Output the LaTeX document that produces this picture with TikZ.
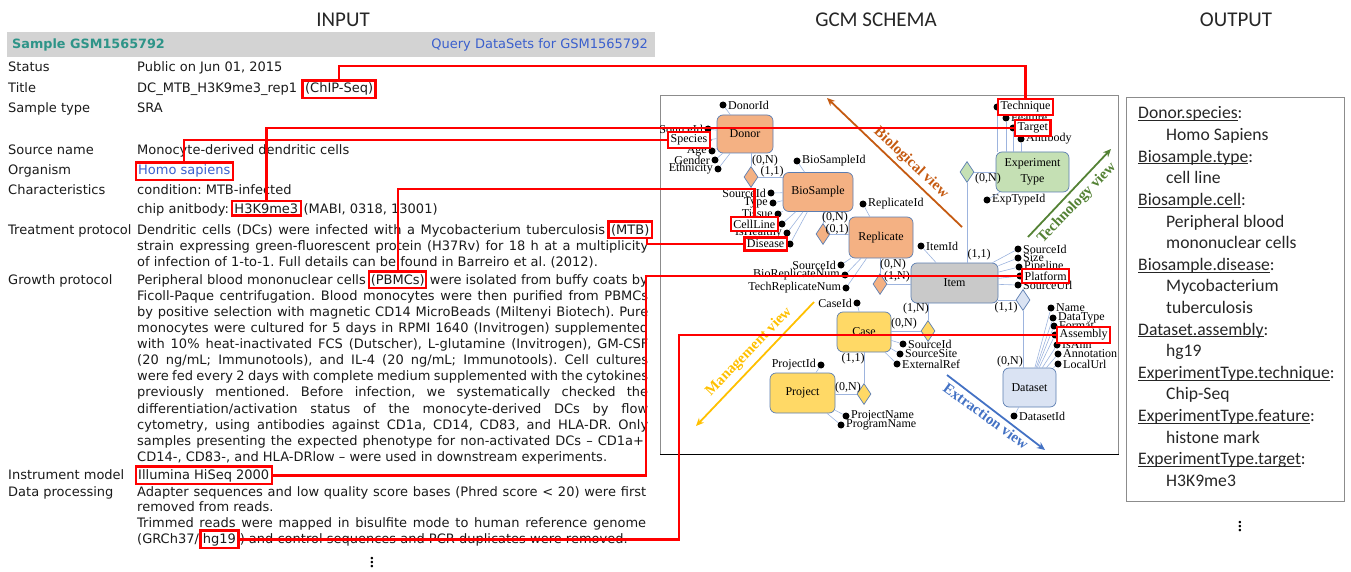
\documentclass[tikz,border=0pt]{standalone}
\usepackage{fontspec}
\setmainfont{Liberation Serif}
\newfontfamily\geoFont{DejaVu Sans}
\newfontfamily\calFont{Carlito}
\usetikzlibrary{positioning,shapes.geometric,arrows.meta}
\definecolor{hlRed}{HTML}{FF0000}
\definecolor{inkBlack}{HTML}{1A1A1A}
\definecolor{inkGray}{HTML}{262626}
\definecolor{barGray}{HTML}{D3D3D3}
\definecolor{gsmTeal}{HTML}{2E9488}
\definecolor{linkBlue}{HTML}{3A5FCD}
\definecolor{frameGray}{HTML}{8C8C8C}
\definecolor{entEdge}{HTML}{5B7DB1}
\definecolor{erLine}{HTML}{9DB4DE}
\definecolor{bioFill}{HTML}{F4B183}
\definecolor{itemFill}{HTML}{C9C9C9}
\definecolor{techFill}{HTML}{C5E0B4}
\definecolor{mgmtFill}{HTML}{FFD966}
\definecolor{extrFill}{HTML}{DAE3F3}
\definecolor{bioOrange}{HTML}{C55A11}
\definecolor{techGreen}{HTML}{548235}
\definecolor{mgmtGold}{HTML}{FFC000}
\definecolor{extrBlue}{HTML}{4472C4}
\newcommand{\keyLine}[1]{\sbox0{#1}\rlap{\rule[-2pt]{\wd0}{0.7pt}}\usebox0}
\frenchspacing
\tikzset{
  inp/.style={font=\geoFont\fontsize{13}{16}\selectfont, anchor=base west, inner sep=0pt, text=inkBlack},
  hlin/.style={draw=hlRed, line width=2.4pt, inner sep=2.5pt},
  alab/.style={font=\fontsize{12}{14}\selectfont, inner sep=0.5pt},
  hlsch/.style={alab, draw=hlRed, fill=white, line width=2.4pt, inner sep=2.5pt},
  ent/.style={draw=entEdge, line width=0.7pt, rounded corners=6pt, font=\fontsize{12}{16}\selectfont, align=center, inner sep=0pt},
  rel/.style={diamond, draw=entEdge, line width=0.7pt, inner sep=0pt, minimum width=14pt, minimum height=21pt},
  attr/.style={circle, fill=black, inner sep=0pt, minimum size=7pt},
  card/.style={font=\fontsize{12}{14}\selectfont, inner sep=0pt},
  er/.style={draw=erLine, line width=0.6pt},
  viewarr/.style={line width=1.8pt, -{Stealth[length=8pt,width=7pt]}},
  viewlab/.style={font=\bfseries\fontsize{15}{18}\selectfont, inner sep=0pt},
  redline/.style={draw=hlRed, line width=2.4pt},
  colhead/.style={font=\calFont\fontsize{21}{24}\selectfont, text=inkGray},
  outline/.style={font=\calFont\fontsize{17.6}{20}\selectfont, anchor=base west, inner sep=0pt, text=inkGray},
  moredots/.style={font=\fontsize{21}{24}\selectfont, inner sep=0pt}
}
\begin{document}
\begin{tikzpicture}[x=1pt,y=-1pt]
\useasboundingbox (0,0) rectangle (1351,572);

% column headings
\node[colhead] (tIn) at (343,20) {INPUT};
\node[colhead] (tSchema) at (876,20) {GCM SCHEMA};
\node[colhead] (tOut) at (1236,20) {OUTPUT};

% ---- input record
\node[fill=barGray, minimum width=648pt, minimum height=25pt, anchor=north west, inner sep=0pt] (bar) at (7,32) {};
\node[inp, font=\geoFont\bfseries\fontsize{12.8}{16}\selectfont, text=gsmTeal] (gsm) at (12,49) {Sample GSM1565792};
\node[inp, anchor=base east, text=linkBlue] (query) at (648,49) {Query DataSets for GSM1565792};

\node[inp] (lStatus) at (8,72) {Status};
\node[inp] (lTitle) at (8,93) {Title};
\node[inp] (lType) at (8,113) {Sample type};
\node[inp] (lSource) at (8,155) {Source name};
\node[inp] (lOrg) at (8,175) {Organism};
\node[inp] (lChar) at (8,195) {Characteristics};
\node[inp] (lTreat) at (8,234) {Treatment protocol};
\node[inp] (lGrowth) at (8,284) {Growth protocol};
\node[inp] (lInstr) at (8,479) {Instrument model};
\node[inp] (lProc) at (8,496) {Data processing};

\node[inp] (vStatus) at (137,72) {Public on Jun 01, 2015};
\node[inp] (vTitle) at (137,93) {DC\_MTB\_H3K9me3\_rep1};
\node[inp, hlin, base right=4pt of vTitle] (chip) {(ChIP-Seq)};
\node[inp] (vType) at (137,113) {SRA};
\node[inp] (vSource) at (137,155) {Monocyte-derived dendritic cells};
\node[inp, hlin, text=linkBlue] (homo) at (134.5,175) {Homo sapiens};
\node[inp] (vCond) at (137,195) {condition: MTB-infected};
\node[inp] (vChip) at (137,213) {chip anitbody:};
\node[inp, hlin, base right=1.5pt of vChip] (h3k) {H3K9me3};
\node[inp, base right=1.5pt of h3k] (vMabi) {(MABI, 0318, 13001)};
\node[inp] (vTreat1) at (137,234) {\makebox[468pt][s]{Dendritic cells (DCs) were infected with a Mycobacterium tuberculosis}};
\node[inp, hlin, base right=2pt of vTreat1] (mtb) {(MTB)};
\node[inp] (vTreat2) at (137,250) {\makebox[511pt][s]{strain expressing green-fluorescent protein (H37Rv) for 18 h at a multiplicity}};
\node[inp] (vTreat3) at (137,266) {of infection of 1-to-1. Full details can be found in Barreiro et al. (2012).};

\node[inp] (vGrow) at (137,284) {Peripheral blood mononuclear cells};
\node[inp, hlin, inner xsep=1.5pt, base right=2pt of vGrow] (pbmc) {(PBMCs)};
\node[inp, anchor=base east] (vGrowEnd) at (648,284) {were isolated from buffy coats by};
\foreach \yy/\txt [count=\i] in {
  300/{Ficoll-Paque centrifugation. Blood monocytes were then purified from PBMCs},
  316/{by positive selection with magnetic CD14 MicroBeads (Miltenyi Biotech). Pure},
  332/{monocytes were cultured for 5 days in RPMI 1640 (Invitrogen) supplemented},
  348/{with 10\% heat-inactivated FCS (Dutscher), L-glutamine (Invitrogen), GM-CSF},
  364/{(20 ng/mL; Immunotools), and IL-4 (20 ng/mL; Immunotools). Cell cultures},
  380/{were fed every 2 days with complete medium supplemented with the cytokines},
  396/{previously mentioned. Before infection, we systematically checked the},
  413/{differentiation/activation status of the monocyte-derived DCs by flow},
  429/{cytometry, using antibodies against CD1a, CD14, CD83, and HLA-DR. Only},
  445/{samples presenting the expected phenotype for non-activated DCs – CD1a+,}}
  \node[inp] (grow\i) at (137,\yy) {\makebox[511pt][s]{\txt}};
\node[inp] (growLast) at (137,461) {CD14-, CD83-, and HLA-DRlow – were used in downstream experiments.};

\node[inp, hlin] (illum) at (134.5,479) {Illumina HiSeq 2000};
\node[inp] (vProc1) at (137,496) {\makebox[509pt][s]{Adapter sequences and low quality score bases (Phred score < 20) were first}};
\node[inp] (vProc2) at (137,511) {removed from reads.};
\node[inp] (vProc3) at (137,527) {\makebox[509pt][s]{Trimmed reads were mapped in bisulfite mode to human reference genome}};
\node[inp] (vProc4) at (137,543) {(GRCh37/};
\node[inp, hlin, base right=0pt of vProc4] (hg) {hg19};
\node[inp, base right=0pt of hg] (vProc5) {) and control sequences and PCR duplicates were removed.};
\node[moredots] (inMore) at (372,560) {$\vdots$};

% ---- GCM schema
\node[draw=frameGray, line width=0.8pt, minimum width=458pt, minimum height=359pt, anchor=north west, inner sep=0pt] (frame) at (660,95) {};
\draw[line width=1pt] (frame.south west) -- (frame.south east);

\node[ent, fill=bioFill, minimum width=56pt, minimum height=38pt] (donor) at (745,134) {Donor};
\node[ent, fill=bioFill, minimum width=70pt, minimum height=39pt] (bios) at (818,192) {BioSample};
\node[ent, fill=bioFill, minimum width=64pt, minimum height=41pt] (repl) at (881,237.5) {Replicate};
\node[ent, fill=itemFill, minimum width=87pt, minimum height=40pt] (item) at (954.5,283) {Item};
\node[ent, fill=techFill, minimum width=73pt, minimum height=40pt] (expt) at (1032.5,172) {Experiment\\Type};
\node[ent, fill=mgmtFill, minimum width=54pt, minimum height=40pt] (case) at (864,332) {Case};
\node[ent, fill=mgmtFill, minimum width=65pt, minimum height=40pt] (proj) at (802.5,393) {Project};
\node[ent, fill=extrFill, minimum width=53pt, minimum height=39pt] (dset) at (1029.5,387.5) {Dataset};

\node[rel, fill=bioFill] (rdb) at (751,177) {};
\node[rel, fill=bioFill] (rbr) at (823,234) {};
\node[rel, fill=bioFill] (rri) at (880,284) {};
\node[rel, fill=techFill] (rei) at (967,172) {};
\node[rel, fill=extrFill] (rid) at (1023,300) {};
\node[rel, fill=mgmtFill] (rci) at (928,331) {};
\node[rel, fill=mgmtFill] (rcp) at (864,394) {};

\draw[er] (donor.south -| rdb) -- (rdb.north);
\draw[er] (rdb.east) -- (rdb.east -| bios.west);
\draw[er] (bios.south -| rbr) -- (rbr.north);
\draw[er] (rbr.east) -- (rbr.east -| repl.west);
\draw[er] (repl.south -| rri) -- (rri.north);
\draw[er] (rri.east) -- (rri.east -| item.west);
\draw[er] (rei.east) -- (rei.east -| expt.west);
\draw[er] (rei.south) -- (rei.south |- item.north);
\draw[er] (rid.west) -- (rid.west -| item.east);
\draw[er] (rid.south) -- (rid.south |- dset.north);
\draw[er] (rci.north) -- (rci.north |- item.south);
\draw[er] (rci.west) -- (rci.west -| case.east);
\draw[er] (case.south -| rcp) -- (rcp.north);
\draw[er] (rcp.west) -- (rcp.west -| proj.east);

\foreach \ax/\ay/\txt [count=\i] in {765/161/{(0,N)}, 772/172/{(1,1)}, 835/218/{(0,N)}, 837/230/{(0,1)},
    893/265/{(0,N)}, 897/277/{(1,N)}, 988/179/{(0,N)}, 979/255/{(1,1)}, 1006/308/{(1,1)},
    1010/362/{(0,N)}, 916/309/{(1,N)}, 904/324/{(0,N)}, 853/359/{(1,1)}, 848/388/{(0,N)}}
  \node[card] (card\i) at (\ax,\ay) {\txt};

% attributes
\foreach \nm/\ax/\ay/\anc/\dx/\txt in {
    donorid/723/105/west/4.5/DonorId, dsrc/708/129/east/-4.5/SourceId, dage/712/151/east/-4.5/Age,
    dgender/715/160/east/-4.5/Gender, deth/718/169/east/-4.5/Ethnicity,
    bsid/797/161/west/4.5/BioSampleId, bsrc/771/193/east/-4.5/SourceId, btype/773/203/east/-4.5/Type,
    btissue/778/214/east/-4.5/Tissue, bhealthy/787/233/east/-4.5/IsHealthy,
    repid/863/204/west/4.5/ReplicateId, rsrc/841/265/east/-4.5/SourceId,
    rbio/845/275/east/-4.5/BioReplicateNum, rtech/846/288/east/-4.5/TechReplicateNum,
    itemid/921/246/west/4.5/ItemId, isrc/1018/249/west/4.5/SourceId, isize/1018/258/west/4.5/Size,
    ipipe/1019/267/west/4.5/Pipeline, iurl/1018/285/west/4.5/SourceUrl,
    efeat/1006/118/west/4.5/Feature, eab/1021/139/west/4.5/Antibody, etid/987/200/west/4.5/ExpTypeId,
    caseid/857/303/east/-4.5/CaseId, csrc/903/344/west/4.5/SourceId, csite/900/354/west/4.5/SourceSite,
    cext/897/364/west/4.5/ExternalRef,
    projid/821/365/east/-4.5/ProjectId, pname/846/416/west/4.5/ProjectName, prog/841/425/west/4.5/ProgramName,
    dsid/1014/416/west/4.5/DatasetId, dname/1051/308/west/4.5/Name, dtype/1053/318/west/4.5/DataType,
    dformat/1054/326/west/4.5/Format, disann/1057/345/west/4.5/IsAnn, dannot/1058/354/west/4.5/Annotation,
    dlocal/1058/364/west/4.5/LocalUrl}{
  \node[attr] (\nm) at (\ax,\ay) {};
  \node[alab, anchor=\anc] (\nm-l) at ([xshift=\dx pt]\nm.center) {\txt};
}
\node[attr] (dspecies) at (708,140) {};
\node[attr] (bcell) at (782,224) {};
\node[attr] (bdisease) at (790,244) {};
\node[attr] (iplat) at (1020,276) {};
\node[attr] (etech) at (997,107) {};
\node[attr] (etarget) at (1013,128) {};
\node[attr] (dasm) at (1055,335) {};

\foreach \a/\e in {donorid/donor, dsrc/donor, dspecies/donor, dage/donor, dgender/donor, deth/donor,
    bsid/bios, bsrc/bios, btype/bios, btissue/bios, bcell/bios, bhealthy/bios, bdisease/bios,
    repid/repl, rsrc/repl, rbio/repl, rtech/repl,
    itemid/item, isrc/item, isize/item, ipipe/item, iplat/item, iurl/item, etid/expt,
    caseid/case, csrc/case, csite/case, cext/case, projid/proj, pname/proj, prog/proj,
    dsid/dset, dname/dset, dtype/dset, dformat/dset, dasm/dset, disann/dset, dannot/dset, dlocal/dset}
  \draw[er] (\a) -- (\e);
\foreach \a in {etech, efeat, etarget, eab}
  \draw[er] (\a) -- (\a |- expt.north);

% views
\coordinate (bioFrom) at (962,227); \coordinate (bioTo) at (827,98);
\coordinate (techFrom) at (1028,237); \coordinate (techTo) at (1111,149);
\coordinate (mgmtFrom) at (814,302); \coordinate (mgmtTo) at (696,426);
\coordinate (extrFrom) at (947,375); \coordinate (extrTo) at (1045,450);
\draw[viewarr, bioOrange] (bioFrom) -- (bioTo);
\draw[viewarr, techGreen] (techFrom) -- (techTo);
\draw[viewarr, mgmtGold] (mgmtFrom) -- (mgmtTo);
\draw[viewarr, extrBlue] (extrFrom) -- (extrTo);
\node[viewlab, text=bioOrange, rotate=-43] (bioLab) at (911,163) {Biological view};
\node[viewlab, text=techGreen, rotate=46] (techLab) at (1077,203) {Technology view};
\node[viewlab, text=mgmtGold, rotate=46] (mgmtLab) at (749,352) {Management view};
\node[viewlab, text=extrBlue, rotate=-36] (extrLab) at (986,416) {Extraction view};

% highlighted schema attributes
\node[hlsch, anchor=east] (sspecies) at ([xshift=3pt]dspecies.center) {Species};
\node[hlsch, anchor=east] (scell) at ([xshift=-3pt]bcell.center) {CellLine};
\node[hlsch, anchor=east] (sdisease) at ([xshift=-2pt]bdisease.center) {Disease};
\node[hlsch, anchor=west] (stech) at (etech.center) {Technique};
\node[hlsch, anchor=west] (starget) at ([xshift=1pt]etarget.center) {Target};
\node[hlsch, anchor=west] (splat) at ([xshift=1pt]iplat.center) {Platform};
\node[hlsch, anchor=west] (sasm) at ([xshift=1pt]dasm.center) {Assembly};

% ---- output
\node[draw=frameGray, line width=0.8pt, minimum width=218pt, minimum height=404pt, anchor=north west, inner sep=0pt] (outbox) at (1126,97) {};
\foreach \xx/\txt [count=\i] in {1138/{\keyLine{Donor.species}:}, 1166/Homo Sapiens,
    1138/{\keyLine{Biosample.type}:}, 1166/cell line,
    1138/{\keyLine{Biosample.cell}:}, 1166/Peripheral blood, 1166/mononuclear cells,
    1138/{\keyLine{Biosample.disease}:}, 1166/Mycobacterium, 1166/tuberculosis,
    1138/{\keyLine{Dataset.assembly}:}, 1166/hg19,
    1138/{\keyLine{ExperimentType.technique}:}, 1166/Chip-Seq,
    1138/{\keyLine{ExperimentType.feature}:}, 1166/histone mark,
    1138/{\keyLine{ExperimentType.target}:}, 1166/H3K9me3}
  \node[outline] (out\i) at (\xx,119+21.6*\i-21.6) {\txt};
\node[moredots] (outMore) at (1240,524) {$\vdots$};

% ---- red links
\coordinate (topRow) at (0,66);
\coordinate (cellRow) at (0,189);
\coordinate (platCol) at (646,0);
\coordinate (asmCol) at (679,0);
\draw[redline] (chip.north) -- (chip.north |- topRow) -| (stech.north);
\draw[redline] (h3k.north) |- (starget.west);
\draw[redline] (homo.north) |- (sspecies.west);
\draw[redline] ([xshift=-6pt]mtb.south east) |- (sdisease.west);
\draw[redline] (pbmc.north) -- (pbmc.north |- cellRow) -| (scell.north);
\draw[redline] (illum.east) -| (platCol |- splat.west) -- (splat.west);
\draw[redline] (hg.east) -| (asmCol |- sasm.west) -- (sasm.west);
\end{tikzpicture}
\end{document}
